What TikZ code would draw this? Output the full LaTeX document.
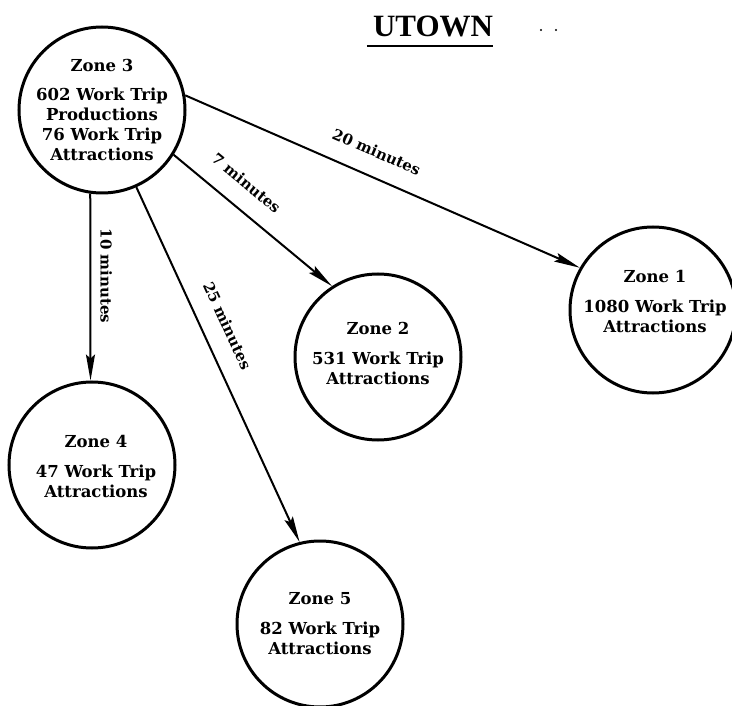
\documentclass[tikz,border=0pt]{standalone}
\usepackage{fontspec}
\setmainfont{DejaVu Serif}
\newfontfamily\titlefont{Liberation Serif}
\usetikzlibrary{arrows.meta}
\begin{document}
\begin{tikzpicture}[x=1pt,y=-1pt,
 zone/.style={circle, draw, line width=3pt, minimum size=166pt, inner sep=0pt},
 zonetext/.style={align=center, font=\bfseries\fontsize{16.5}{20}\selectfont, inner sep=0pt},
 link/.style={line width=2pt, -{Stealth[length=26pt,width=9pt,inset=4pt]}},
 lbl/.style={sloped, font=\bfseries\fontsize{15}{18}\selectfont, inner sep=0pt}]
\useasboundingbox[fill=white] (0,0) rectangle (732,706);

% title
\node[font=\titlefont\bfseries\fontsize{31}{36}\selectfont, inner sep=0pt, anchor=base] (title) at (433,37) {UTOWN};
\draw[line width=2pt] (title.base west) ++(-6pt,-9pt) coordinate (ul1) -- ([yshift=-9pt]title.base east) coordinate (ul2);
\fill (541,30) circle (1.1pt);
\fill (556,30) circle (1.1pt);

% zones
\node[zone] (z3) at (102,110) {};
\node[zone] (z1) at (653,310) {};
\node[zone] (z2) at (378,357) {};
\node[zone] (z4) at (92,465) {};
\node[zone] (z5) at (320,624) {};

\node[zonetext] (t3) at (102,110) {Zone 3\\[9pt]602 Work Trip\\Productions\\76 Work Trip\\Attractions};
\node[zonetext] (t1) at (655,301) {Zone 1\\[10pt]1080 Work Trip\\Attractions};
\node[zonetext] (t2) at (378,353) {Zone 2\\[10pt]531 Work Trip\\Attractions};
\node[zonetext] (t4) at (96,466) {Zone 4\\[10pt]47 Work Trip\\Attractions};
\node[zonetext] (t5) at (320,624) {Zone 5\\[10pt]82 Work Trip\\Attractions};

% connectors
\draw[link] (z3.10) -- node[lbl, pos=0.46, above=18pt] {20 minutes} (z1.150);
\draw[link] (z3.-32) -- node[lbl, pos=0.36, above=18pt] {7 minutes} (z2.123);
\draw[link] (z3.-98) -- node[lbl, pos=0.44, above=9pt] {10 minutes} (z4.91);
\draw[link] (z3.-66) -- node[lbl, pos=0.42, above=18pt] {25 minutes} (z5.104);
\end{tikzpicture}
\end{document}
